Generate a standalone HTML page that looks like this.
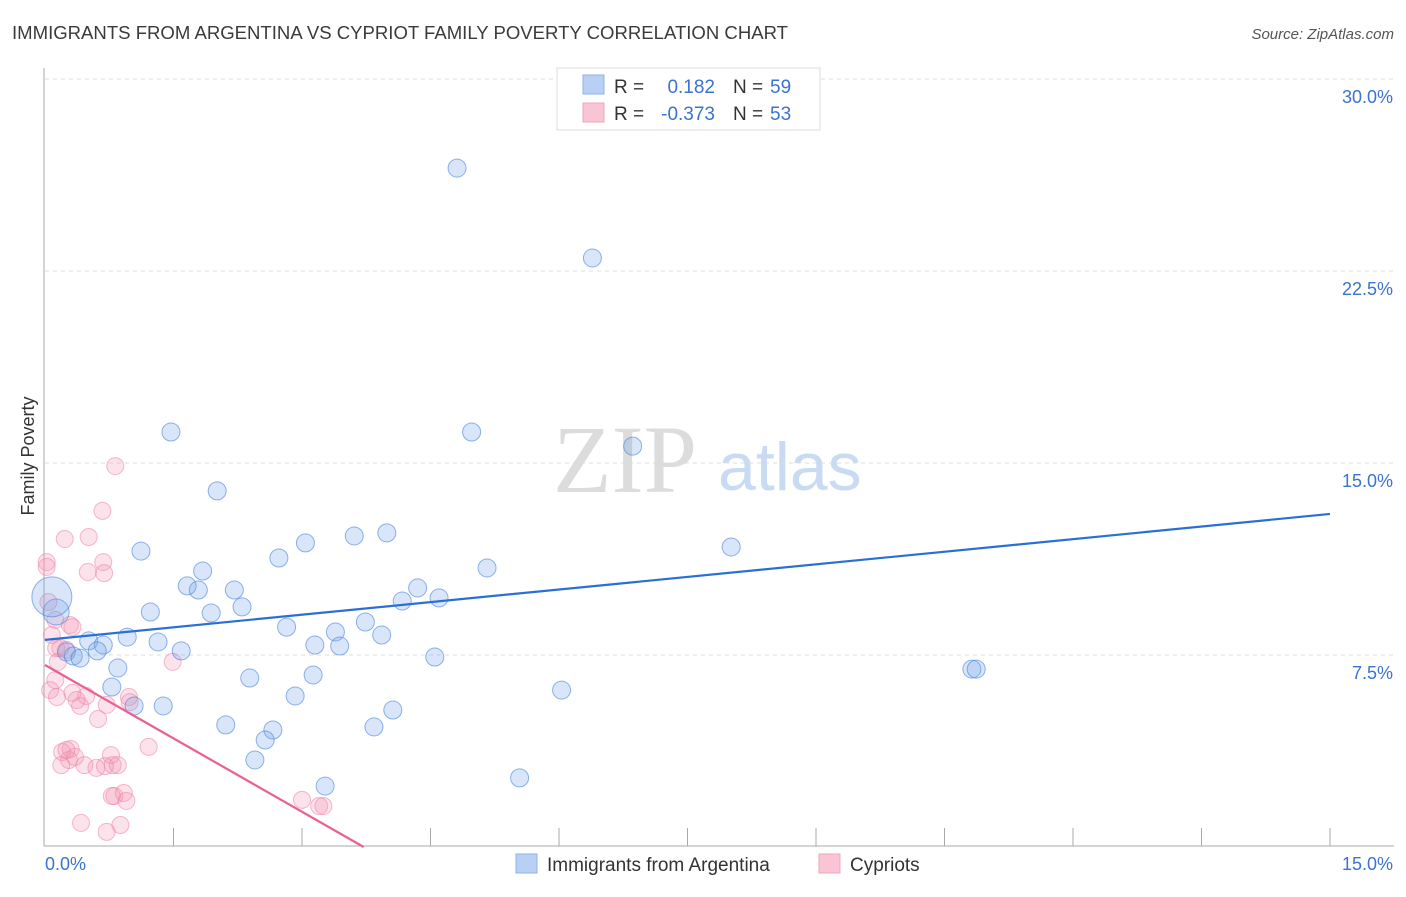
<!DOCTYPE html>
<html><head><meta charset="utf-8"><style>
body{margin:0;background:#fff;font-family:"Liberation Sans",sans-serif;}
svg text{font-family:"Liberation Sans",sans-serif;}
</style></head><body>
<svg id="chart" width="1406" height="892">
<text x="12" y="39" font-size="18" fill="#3a3a3a" textLength="776" lengthAdjust="spacingAndGlyphs">IMMIGRANTS FROM ARGENTINA VS CYPRIOT FAMILY POVERTY CORRELATION CHART</text>
<text x="1394" y="39" font-size="15" fill="#555" font-style="italic" text-anchor="end">Source: ZipAtlas.com</text>
<text x="34" y="456" font-size="18" fill="#333" text-anchor="middle" transform="rotate(-90 34 456)">Family Poverty</text>
<g>
<text x="553" y="492" font-size="96" fill="#dcdcdc" font-family="Liberation Serif" style="font-family:'Liberation Serif',serif">ZIP</text>
<text x="718" y="490" font-size="68" fill="#c9dbf3">atlas</text>
</g>
<g id="grid"></g><g id="axes"></g><g id="pts"></g><g id="lines"></g>
<g>
<rect x="557" y="68" width="263" height="62" fill="#fff" stroke="#ddd"/>
<rect x="583" y="75" width="21" height="19" fill="#b8d0f4" stroke="#8fb2ea"/>
<rect x="583" y="103" width="21" height="19" fill="#f9c4d4" stroke="#f2a4bc"/>
<text x="614" y="93" font-size="19" fill="#333">R =</text><text x="715" y="93" font-size="19" fill="#3a73d0" text-anchor="end">0.182</text>
<text x="733" y="93" font-size="19" fill="#333">N =</text><text x="770" y="93" font-size="19" fill="#3a73d0">59</text>
<text x="614" y="120" font-size="19" fill="#333">R =</text><text x="715" y="120" font-size="19" fill="#3a73d0" text-anchor="end">-0.373</text>
<text x="733" y="120" font-size="19" fill="#333">N =</text><text x="770" y="120" font-size="19" fill="#3a73d0">53</text>
</g>
<g>
<rect x="516" y="854" width="21" height="19" fill="#b8d0f4" stroke="#8fb2ea"/>
<text x="547" y="871" font-size="19" fill="#333">Immigrants from Argentina</text>
<rect x="819" y="854" width="21" height="19" fill="#f9c4d4" stroke="#f2a4bc"/>
<text x="850" y="871" font-size="19" fill="#333">Cypriots</text>
</g>
</svg>
<script>
const yTicks=[7.5,15,22.5,30];
const yTickLabels=["7.5%","15.0%","22.5%","30.0%"];
const xTickLabels=["0.0%","15.0%"];
const blueX=[4.81,6.39,1.47,4.98,6.86,2.01,8.01,1.12,3.61,3.99,3.04,2.73,5.16,1.84,1.66,1.79,2.21,4.35,4.17,4.60,1.23,1.94,2.30,3.74,2.82,3.39,3.93,0.96,0.51,1.32,3.15,3.44,0.68,1.59,0.61,0.25,0.33,0.41,4.55,0.85,3.13,2.39,10.82,10.87,0.78,6.03,1.38,1.04,2.92,4.06,2.11,2.66,3.84,2.57,2.45,3.27,5.54,0.13,0.08];
const blueY=[26.52,23.01,16.21,16.21,15.66,13.91,11.72,11.56,12.15,12.27,11.88,11.29,10.90,10.78,10.20,10.04,10.04,10.12,9.61,9.73,9.18,9.14,9.38,8.79,8.59,8.40,8.28,8.20,8.05,8.01,7.89,7.85,7.89,7.66,7.66,7.62,7.46,7.38,7.42,6.99,6.72,6.60,6.95,6.95,6.25,6.13,5.51,5.51,5.90,5.35,4.77,4.57,4.69,4.18,3.40,2.38,2.70,9.18,9.77];
const pinkX=[0.82,0.67,0.51,0.23,0.68,0.69,0.50,0.02,0.02,0.29,0.32,0.08,1.49,0.15,0.18,0.25,0.13,0.12,0.06,0.14,0.32,0.48,0.37,0.41,0.98,0.99,0.72,0.62,1.21,0.30,0.20,0.28,0.35,0.19,0.46,0.60,0.77,0.79,0.85,0.81,0.92,0.95,0.78,0.70,3.00,3.20,3.25,0.42,0.88,0.72,0.25,0.04,0.12];
const pinkY=[14.88,13.13,12.11,12.03,11.13,10.70,10.74,11.13,10.94,8.67,8.59,8.28,7.23,7.23,7.77,7.70,7.77,6.52,6.13,5.86,6.02,5.90,5.74,5.51,5.86,5.66,5.55,5.00,3.91,3.83,3.71,3.40,3.52,3.20,3.20,3.09,3.59,3.20,3.20,1.99,2.11,1.80,1.99,3.16,1.84,1.60,1.60,0.94,0.86,0.59,3.79,9.57,8.87];
const blueTrend=[[0,8.09],[15,13.01]];
const pinkTrend=[[0,7.11],[3.72,0]];
const X=v=>45+v/15*1285, Y=v=>847-v/7.5*192;
const NS="http://www.w3.org/2000/svg";
function mk(t,a,p){const e=document.createElementNS(NS,t);for(const k in a)e.setAttribute(k,a[k]);document.getElementById(p).appendChild(e);return e;}
yTicks.forEach((t,i)=>{
 const l=mk('line',{x1:45,x2:1394,y1:Y(t),y2:Y(t),stroke:'#ddd','stroke-dasharray':'4,4'},'grid');
 
 
 const tx=mk('text',{x:1393,y:Y(t)+24,'font-size':18,fill:'#3a73d0','text-anchor':'end'},'axes');
 tx.textContent=yTickLabels[i];
 
 
});
let ax=mk('line',{x1:44,x2:44,y1:68,y2:846,stroke:'#aaa'},'axes');


ax=mk('line',{x1:44,x2:1394,y1:846,y2:846,stroke:'#aaa'},'axes');


for(let i=1;i<=10;i++){const tk=mk('line',{x1:X(i*1.5),x2:X(i*1.5),y1:828,y2:846,stroke:'#aaa'},'axes');
 
 }
let t0=mk('text',{x:45,y:870,'font-size':18,fill:'#3a73d0'},'axes');t0.textContent=xTickLabels[0];


t0=mk('text',{x:1393,y:870,'font-size':18,fill:'#3a73d0','text-anchor':'end'},'axes');t0.textContent=xTickLabels[1];


pinkX.forEach((x,i)=>{const c=mk('circle',{cx:X(x),cy:Y(pinkY[i]),r:8.5,fill:'rgba(244,150,180,0.28)',stroke:'rgba(236,130,165,0.55)','stroke-width':1},'pts');
 
 });
blueX.forEach((x,i)=>{const r=i==blueX.length-1?20:(i==blueX.length-2?13:9);
 const c=mk('circle',{cx:X(x),cy:Y(blueY[i]),r:r,fill:'rgba(120,165,235,0.28)',stroke:'rgba(70,130,220,0.6)','stroke-width':1},'pts');
 
 });
let tl=mk('line',{x1:X(blueTrend[0][0]),y1:Y(blueTrend[0][1]),x2:X(blueTrend[1][0]),y2:Y(blueTrend[1][1]),stroke:'#2a6fd6','stroke-width':2.2},'lines');


tl=mk('line',{x1:X(pinkTrend[0][0]),y1:Y(pinkTrend[0][1]),x2:X(pinkTrend[1][0]),y2:Y(pinkTrend[1][1]),stroke:'#e8618f','stroke-width':2.2},'lines');


</script>
</body></html>
